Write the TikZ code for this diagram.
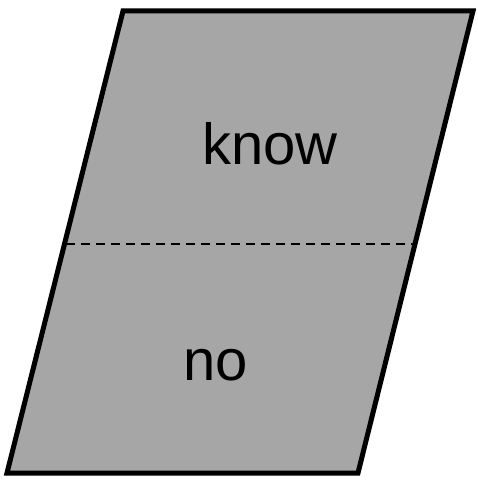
\documentclass[tikz,border=0pt]{standalone}
\usepackage{fontspec}
\setmainfont{Liberation Sans}
\begin{document}
\begin{tikzpicture}[x=1pt,y=-1pt,
  shapebox/.style={draw=black,fill=black!35,line width=5pt,line join=miter},
  divider/.style={draw=black,line width=2pt,dash pattern=on 9pt off 6pt},
  lbl/.style={font=\fontsize{58}{60}\selectfont,inner sep=0pt}]
\useasboundingbox (0,0) rectangle (477,481);
\coordinate (tl) at (123,11);
\coordinate (tr) at (473,11);
\coordinate (br) at (358,473);
\coordinate (bl) at (7,473);
\path[shapebox] (tl) -- (tr) -- (br) -- (bl) -- cycle;
\coordinate (dl) at (66,244);
\coordinate (dr) at (415,244);
\draw[divider] (dl) -- (dr);
\node[lbl] (know) at (270,144) {know};
\node[lbl] (no) at (216,365) {no};
\end{tikzpicture}
\end{document}
